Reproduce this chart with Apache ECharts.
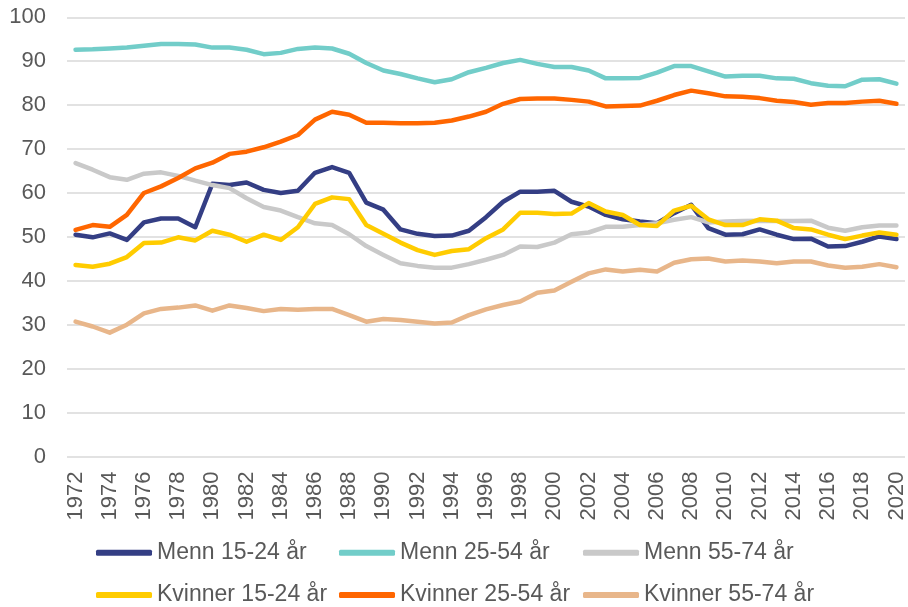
<!DOCTYPE html>
<html>
<head>
<meta charset="utf-8">
<script src="https://cdn.jsdelivr.net/npm/echarts@6/dist/echarts.min.js"></script>
<style>html,body{margin:0;padding:0;background:#fff;}#c{width:908px;height:607px;}</style>
</head>
<body>
<div id="c"></div>
<script>
var years = [];
for (var y = 1972; y <= 2020; y++) years.push(String(y));

var seriesNames = ['Menn 15-24 år','Menn 25-54 år','Menn 55-74 år','Kvinner 15-24 år','Kvinner 25-54 år','Kvinner 55-74 år'];

var menn1524 = [50.5,49.9,50.8,49.3,53.3,54.2,54.2,52.2,62.1,61.8,62.4,60.7,60.0,60.5,64.6,65.9,64.6,
  57.8,56.2,51.7,50.7,50.2,50.3,51.4,54.5,58.0,60.3,60.3,60.5,58.0,56.9,55.0,54.0,
  53.5,53.1,55.4,57.3,52.0,50.5,50.6,51.7,50.5,49.5,49.6,47.8,47.9,48.9,50.1,49.5];
var menn2554 = [92.6,92.7,92.9,93.1,93.5,93.9,93.9,93.8,93.1,93.1,92.6,91.6,91.9,92.8,93.1,92.9,91.7,
  89.6,87.9,87.1,86.1,85.2,85.9,87.5,88.5,89.6,90.3,89.4,88.7,88.7,87.9,86.1,86.1,
  86.2,87.4,88.9,88.9,87.7,86.5,86.7,86.7,86.1,86.0,85.0,84.4,84.3,85.8,85.9,84.9];
var menn5574 = [66.8,65.3,63.6,63.0,64.4,64.7,63.9,62.8,61.8,61.1,58.8,56.8,56.0,54.5,53.1,52.7,50.6,
  47.9,45.9,44.0,43.4,43.0,43.0,43.8,44.8,45.9,47.8,47.7,48.7,50.6,51.0,52.3,52.3,
  52.7,53.1,53.9,54.5,53.3,53.5,53.6,53.7,53.6,53.6,53.7,52.1,51.4,52.2,52.6,52.6];
var kvinner1524 = [43.6,43.2,43.9,45.4,48.6,48.7,49.9,49.2,51.4,50.5,48.9,50.5,49.3,52.2,57.5,59.0,58.6,
  52.7,50.7,48.7,47.0,45.9,46.8,47.2,49.7,51.7,55.5,55.5,55.2,55.3,57.7,55.8,55.0,
  52.7,52.5,56.0,57.1,54.0,52.7,52.7,54.0,53.7,52.0,51.7,50.5,49.5,50.3,51.0,50.5];
var kvinner2554 = [51.6,52.7,52.3,55.0,60.0,61.5,63.4,65.6,66.9,68.9,69.4,70.4,71.7,73.2,76.7,78.5,77.8,
  76.0,76.0,75.9,75.9,76.0,76.5,77.4,78.5,80.3,81.4,81.5,81.5,81.2,80.8,79.7,79.8,
  79.9,81.0,82.3,83.3,82.7,82.0,81.9,81.6,81.0,80.7,80.1,80.5,80.5,80.8,81.0,80.3];
var kvinner5574 = [30.7,29.6,28.2,30.0,32.6,33.6,33.9,34.4,33.2,34.4,33.8,33.1,33.6,33.4,33.6,33.6,32.2,
  30.7,31.3,31.1,30.7,30.3,30.5,32.2,33.5,34.5,35.3,37.3,37.8,39.8,41.7,42.6,42.1,
  42.5,42.1,44.1,44.9,45.1,44.4,44.6,44.4,44.0,44.4,44.4,43.5,43.0,43.2,43.8,43.1];

var yTicks = [0,10,20,30,40,50,60,70,80,90,100];

var dataList = [menn1524, menn2554, menn5574, kvinner1524, kvinner2554, kvinner5574];
var colors = ['#343E84','#72CDC9','#C9C9C9','#FFCC00','#FF6600','#E8B68A'];

var font = 'Liberation Sans, Arial, sans-serif';
var textColor = '#595959';

var series = seriesNames.map(function (n, i) {
  return {
    name: n,
    type: 'line',
    data: dataList[i],
    symbol: 'none',
    smooth: false,
    color: colors[i],
    lineStyle: { width: 4.5, color: colors[i], cap: 'round', join: 'round' },
    emphasis: { disabled: true },
    z: 2 + i
  };
});

var legendPos = [[96,541.2],[339,541.2],[583,541.2],[96,583.5],[339,583.5],[583,583.5]];
var legends = seriesNames.map(function (n, i) {
  return {
    data: [{ name: n, itemStyle: { color: colors[i] } }],
    left: legendPos[i][0],
    top: legendPos[i][1],
    padding: 0,
    icon: 'roundRect',
    itemWidth: 56,
    itemHeight: 6,
    selectedMode: false,
    textStyle: { fontFamily: font, fontSize: 23, color: textColor, lineHeight: 23 }
  };
});

var chart = echarts.init(document.getElementById('c'), null, { renderer: 'canvas' });
chart.setOption({
  animation: false,
  backgroundColor: '#ffffff',
  grid: { left: 67, right: 3, top: 17.3, bottom: 150.5, containLabel: false },
  legend: legends,
  xAxis: {
    type: 'category',
    data: years,
    boundaryGap: true,
    axisLine: { show: false },
    axisTick: { show: false },
    axisLabel: {
      interval: 1,
      rotate: 90,
      margin: 15,
      fontFamily: font,
      fontSize: 22,
      color: textColor
    }
  },
  yAxis: {
    type: 'value',
    min: yTicks[0],
    max: yTicks[yTicks.length - 1],
    interval: 10,
    axisLine: { show: false },
    axisTick: { show: false },
    axisLabel: { fontFamily: font, fontSize: 22, color: textColor, margin: 21 },
    splitLine: { lineStyle: { color: '#D9D9D9', width: 1.5 } }
  },
  series: series
});
</script>
</body>
</html>
